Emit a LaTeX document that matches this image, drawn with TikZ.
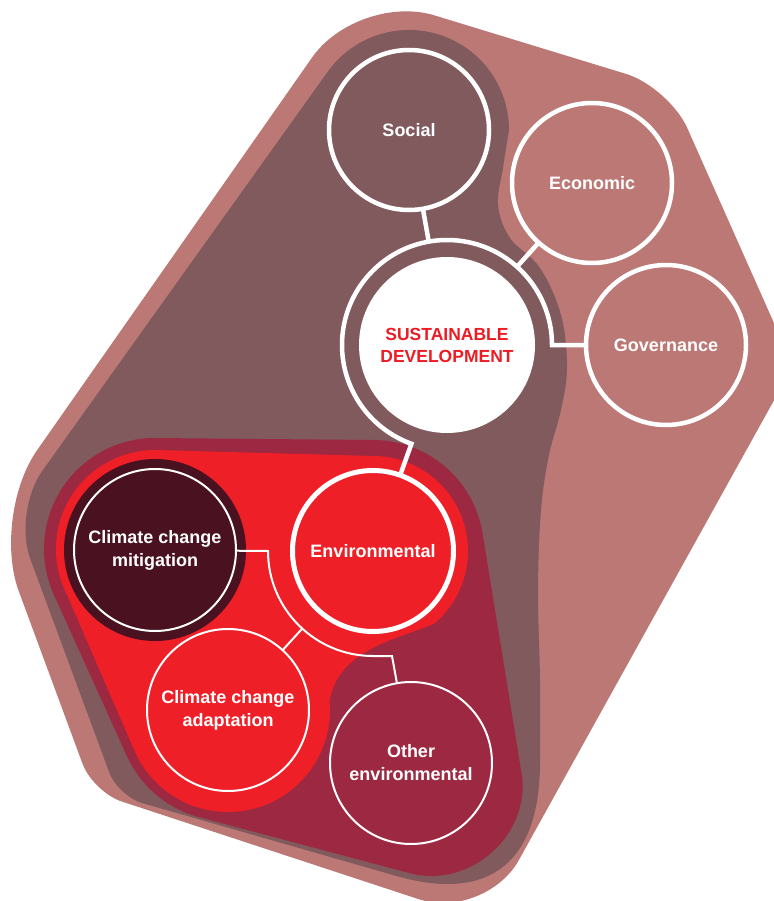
\documentclass[tikz,border=0pt]{standalone}
\usepackage{fontspec}
\setmainfont{Liberation Sans}
\definecolor{lightrose}{HTML}{BB7875}
\definecolor{mauve}{HTML}{815A5E}
\definecolor{crimson}{HTML}{9C2941}
\definecolor{brightred}{HTML}{EE1F27}
\definecolor{mitdark}{HTML}{4A1221}
\definecolor{sdred}{HTML}{ED1C24}
\tikzset{
  bubble/.style={circle, inner sep=0pt, outer sep=0pt, minimum size=160, draw=white, line width=4.5,
    text=white, font=\bfseries\fontsize{18}{23}\selectfont, align=center},
  thinbubble/.style={bubble, minimum size=162, line width=2},
  ringnode/.style={circle, minimum size=210, inner sep=0pt, outer sep=0pt},
  thickconn/.style={draw=white, line width=4.5},
  thinconn/.style={draw=white, line width=2},
}
\begin{document}
\begin{tikzpicture}[x=1pt, y=-1pt]
\useasboundingbox (0,0) rectangle (773,901);
% outer light blob
\fill[lightrose] (434.5,15.4) -- (626,73.9) .. controls (649.6,81.1) and (677.2,105.5) .. (687.3,128.1)
  -- (776.8,329.4) .. controls (785.7,349.6) and (784.3,381.7) .. (773.6,401)
  -- (519,859.8) .. controls (500.3,893.5) and (455.1,911.2) .. (418.5,899.1)
  -- (121.5,801.4) .. controls (105.8,796.2) and (88.3,779.3) .. (82.6,763.9)
  -- (18.7,591) .. controls (3.5,549.8) and (11.7,486.5) .. (36.9,450.5)
  -- (312.1,57.5) .. controls (337.3,21.5) and (392.4,2.5) .. (434.5,15.4) -- cycle;
% dark mauve blob
\fill[mauve] (327.6,71.9) arc[start angle=215.5, end angle=360, radius=100]
  -- plot[smooth, tension=0.6] coordinates {(509,130) (503,168) (498,205) (510,238) (540,268) (561,315) (567,367) (561,410) (549,455) (541,510) (538,590) (540,680) (540,760)}
  .. controls (540.6,860.8) and (491.7,901.7) .. (400,877)
  -- (142,803) .. controls (128.8,799.1) and (114.1,785.4) .. (109.3,772.5)
  -- (30.3,558.9) .. controls (20.8,533.1) and (26,494.2) .. (42,471.3)
  -- cycle;
% crimson blob
\fill[crimson] (155,438) -- (373,440) arc[start angle=270, end angle=350.7, radius=111]
  -- (521.5,773) .. controls (531.6,834.7) and (469.75,889.65) .. (409,873)
  -- (198.8,817.1) arc[start angle=105.2, end angle=155.6, radius=111]
  -- (53.9,594.8) arc[start angle=155.6, end angle=270, radius=111] -- cycle;
% bright red blob
\fill[brightred] (155,450) -- (373,456) arc[start angle=270, end angle=410, radius=95]
  .. controls (395,640) and (338,650) .. (329.6,701.1)
  arc[start angle=-5, end angle=155.6, radius=102]
  -- (64.8,589.9) arc[start angle=155.6, end angle=270, radius=99] -- cycle;
% mitigation halo
\fill[mitdark] (155,550) circle[radius=91];

% nodes
\node[bubble] (social) at (409,130) {Social};
\node[bubble] (economic) at (592,183) {Economic};
\node[bubble] (governance) at (666,345) {Governance};
\node[circle, fill=white, minimum size=176, inner sep=0pt, outer sep=0pt, text=sdred,
  font=\bfseries\fontsize{17.5}{22}\selectfont, align=center] (sd) at (447,345) {SUSTAINABLE\\DEVELOPMENT};
\node[ringnode] (sdring) at (447,345) {};
\node[bubble, fill=brightred, minimum size=161, line width=5] (env) at (373,551) {Environmental};
\node[ringnode] (envring) at (373,551) {};
\node[thinbubble, fill=mitdark] (mit) at (155,550) {Climate change\\mitigation};
\node[thinbubble, fill=brightred] (adapt) at (228,710) {Climate change\\adaptation};
\node[thinbubble, fill=crimson] (oth) at (411,763) {Other\\environmental};

% upper connectors
\draw[thickconn] (social) -- (sdring);
\draw[thickconn] (economic) -- (sdring);
\draw[thickconn] (governance) -- (sdring.east) arc[start angle=0, end angle=-250.2, radius=105] -- (env);
% lower connectors
\draw[thinconn] (mit) -- (envring.west) arc[start angle=180, end angle=90, radius=105] -- ++(19,0) -- (oth.100);
\draw[thinconn] (adapt) -- (envring);
\end{tikzpicture}
\end{document}
